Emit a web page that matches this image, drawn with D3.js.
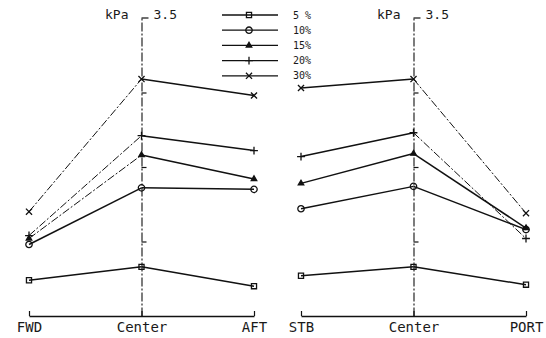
<!DOCTYPE html>
<html lang="en">
<head>
  <meta charset="UTF-8">
  <script src="https://cdn.jsdelivr.net/npm/d3@7"></script>
  <title>kPa FWD/AFT STB/PORT</title>
  <style>
    * { margin: 0; padding: 0; }
    html, body { background: #fff; }
    text { font-family: "DejaVu Sans Mono", monospace; fill: #1a1a1a; }
  </style>
</head>
<body>
<div id="box"></div>
<script>
  var width = 546
  var height = 338

  // series and categories
  var series = ['5 %', '10%', '15%', '20%', '30%']
  var fwdAft = ['FWD', 'Center', 'AFT']
  var stbPort = ['STB', 'Center', 'PORT']

  // values, kPa
  var fwdAftValues = [
    [1.74, 1.83, 1.70],
    [1.98, 2.36, 2.35],
    [2.02, 2.58, 2.42],
    [2.04, 2.71, 2.61],
    [2.20, 3.09, 2.98]
  ]
  var stbPortValues = [
    [1.77, 1.83, 1.71],
    [2.22, 2.37, 2.08],
    [2.39, 2.59, 2.09],
    [2.57, 2.73, 2.02],
    [3.03, 3.09, 2.19]
  ]
  var yTicks = [2, 2.5, 3]
  var yTop = 3.5
  var yUnit = 'kPa'

  var svg = d3.select('#box').append('svg')
    .attr('width', width)
    .attr('height', height)

  var y = d3.scaleLinear().domain([1.5, yTop]).range([316, 18])

  var ink = '#111'
  var symbols = [
    d3.symbolSquare,
    d3.symbolCircle,
    d3.symbolTriangle,
    d3.symbolPlus || d3.symbolCross,
    d3.symbolTimes || d3.symbolCross
  ]
  var symSize = [26, 32, 13, 22, 26]
  var symFill = ['none', 'none', ink, 'none', 'none']

  function marker(g, i, px, py) {
    g.append('path')
      .attr('d', d3.symbol(symbols[i], symSize[i])())
      .attr('transform', 'translate(' + px + ',' + py + ')')
      .attr('fill', symFill[i])
      .attr('stroke', ink)
      .attr('stroke-width', 1.3)
  }

  var panels = [
    { cats: fwdAft, values: fwdAftValues, range: [29, 254] },
    { cats: stbPort, values: stbPortValues, range: [301, 526] }
  ]

  panels.forEach(function (p) {
    var x = d3.scalePoint().domain(p.cats).range(p.range)
    var g = svg.append('g')
    var cx = x('Center')

    // bottom bracket with labels
    var xaxis = d3.axisBottom(x).tickSize(-5).tickSizeOuter(0).tickPadding(6)
    var ax = g.append('g').attr('transform', 'translate(0,' + y(1.5) + ')').call(xaxis)
    ax.select('.domain').attr('stroke', ink).attr('stroke-width', 1.4)
    ax.selectAll('.tick line').attr('stroke', ink).attr('stroke-width', 1.2)
    ax.selectAll('.tick text')
      .style('font-family', '"DejaVu Sans Mono", monospace')
      .style('font-size', '14px')
      .attr('fill', '#1a1a1a')

    // vertical kPa axis through Center
    var yaxis = d3.axisRight(y).tickValues(yTicks).tickSize(5).tickSizeOuter(0).tickFormat('')
    var ay = g.append('g').attr('transform', 'translate(' + cx + ',0)').call(yaxis)
    ay.select('.domain').attr('stroke', ink).attr('stroke-width', 1.1)
      .attr('stroke-dasharray', '9,2,2,2')
    ay.selectAll('.tick line').attr('stroke', ink).attr('stroke-width', 1.2)
    g.append('line')
      .attr('x1', cx).attr('x2', cx + 7)
      .attr('y1', y(yTop)).attr('y2', y(yTop))
      .attr('stroke', ink).attr('stroke-width', 1.2)
    g.append('text').attr('x', cx + 12).attr('y', y(yTop) + 1)
      .style('font-size', '13px').text(d3.format('.1f')(yTop))
    g.append('text').attr('x', cx - 13).attr('y', y(yTop) + 1)
      .attr('text-anchor', 'end').style('font-size', '13px').text(yUnit)

    // series lines
    p.values.forEach(function (vals, i) {
      for (var k = 0; k < vals.length - 1; k++) {
        var x1 = x(p.cats[k]), x2 = x(p.cats[k + 1])
        var y1 = y(vals[k]), y2 = y(vals[k + 1])
        var steep = Math.abs((y2 - y1) / (x2 - x1)) > 0.7
        g.append('line')
          .attr('x1', x1).attr('y1', y1).attr('x2', x2).attr('y2', y2)
          .attr('stroke', ink)
          .attr('stroke-width', steep ? 1 : 1.5)
          .attr('stroke-dasharray', steep ? '8,2,2,2' : null)
      }
      vals.forEach(function (v, k) {
        marker(g, i, x(p.cats[k]), y(v))
      })
    })
  })

  // legend
  var leg = svg.append('g')
  series.forEach(function (s, i) {
    var ly = 15 + i * 15.2
    leg.append('line')
      .attr('x1', 222).attr('x2', 278).attr('y1', ly).attr('y2', ly)
      .attr('stroke', ink).attr('stroke-width', 1.3)
    marker(leg, i, 249, ly)
    leg.append('text').attr('x', 293).attr('y', ly + 3.5)
      .style('font-size', '10px').text(s)
  })
</script>
</body>
</html>
